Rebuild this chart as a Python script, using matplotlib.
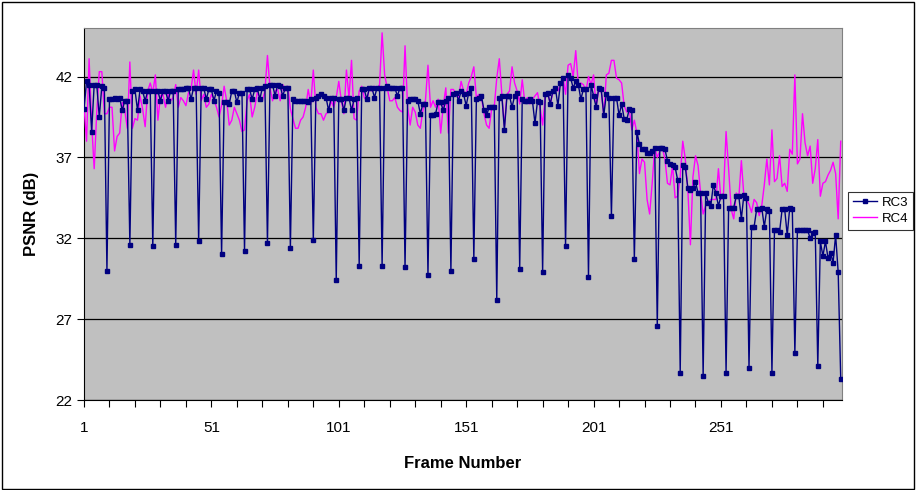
import matplotlib
matplotlib.use("Agg")
import matplotlib.pyplot as plt
from matplotlib.patches import Rectangle
import numpy as np

# PSNR por frame
rc3 = [40.0,
       41.7, 41.5, 38.6, 41.5, 41.5, 39.5, 41.4, 41.3, 30.0,
       40.6, 40.6, 40.7, 40.6, 40.7, 39.9, 40.5, 40.5, 31.6,
       41.1, 41.2, 39.9, 41.2, 41.1, 40.5, 41.1, 41.1, 31.5,
       41.1, 41.1, 40.5, 41.1, 41.1, 40.5, 41.1, 41.1, 31.6,
       41.2, 41.2, 41.2, 41.3, 41.3, 40.6, 41.3, 41.3, 31.8,
       41.3, 41.3, 40.6, 41.2, 41.2, 40.5, 41.1, 41.0, 31.0,
       40.4, 40.4, 40.3, 41.1, 41.1, 40.4, 41.0, 41.0, 31.2,
       41.2, 41.2, 40.6, 41.2, 41.3, 40.6, 41.3, 41.4, 31.7,
       41.5, 41.5, 40.8, 41.5, 41.4, 40.8, 41.3, 41.3, 31.4,
       40.6, 40.5, 40.5, 40.5, 40.5, 40.5, 40.4, 40.6, 31.9,
       40.7, 40.8, 40.9, 40.8, 40.7, 39.9, 40.7, 40.7, 29.4,
       40.6, 40.6, 39.9, 40.7, 40.7, 39.9, 40.6, 40.7, 30.3,
       41.2, 41.2, 40.6, 41.3, 41.3, 40.7, 41.3, 41.3, 30.3,
       41.3, 41.4, 41.3, 41.3, 41.3, 40.8, 41.3, 41.3, 30.2,
       40.5, 40.6, 40.6, 40.6, 40.5, 39.7, 40.3, 40.3, 29.7,
       39.6, 39.6, 39.7, 40.4, 40.4, 39.9, 40.5, 40.7, 30.0,
       40.9, 41.0, 40.5, 41.1, 40.9, 40.2, 41.0, 41.3, 30.7,
       40.6, 40.7, 40.8, 39.9, 39.6, 40.1, 40.1, 40.1, 28.2,
       40.7, 40.8, 38.7, 40.8, 40.8, 40.1, 40.8, 41.0, 30.1,
       40.6, 40.5, 40.5, 40.6, 40.5, 39.1, 40.5, 40.4, 29.9,
       40.9, 41.0, 40.3, 41.1, 41.3, 40.2, 41.6, 41.9, 31.5,
       42.1, 41.9, 41.3, 41.7, 41.5, 40.6, 41.2, 41.2, 29.6,
       41.5, 40.8, 40.1, 41.3, 41.2, 39.6, 40.9, 40.7, 33.4,
       40.7, 40.7, 39.6, 40.3, 39.4, 39.3, 40.0, 39.9, 30.7,
       38.6, 37.8, 37.5, 37.5, 37.3, 37.3, 37.4, 37.6, 26.6,
       37.6, 37.6, 37.5, 36.8, 36.6, 36.5, 36.4, 35.6, 23.7,
       36.5, 36.4, 35.1, 35.0, 35.1, 35.5, 34.8, 34.8, 23.5,
       34.8, 34.2, 34.0, 35.3, 34.8, 34.0, 34.6, 34.6, 23.7,
       33.9, 33.9, 33.9, 34.6, 34.6, 33.2, 34.7, 34.5, 24.0,
       32.7, 32.7, 33.8, 33.8, 33.9, 32.7, 33.8, 33.7, 23.7,
       32.5, 32.5, 32.4, 33.8, 33.8, 32.2, 33.9, 33.8, 24.9,
       32.5, 32.5, 32.5, 32.5, 32.5, 32.0, 32.3, 32.4, 24.1,
       31.8, 30.9, 31.8, 30.8, 31.1, 30.5, 32.2, 29.9, 23.3]

rc4 = [40.2, 38.0, 43.1, 39.1, 36.3, 39.8, 42.3, 42.3, 39.7, 39.7,
       40.1, 40.1, 37.4, 38.3, 38.5, 40.4, 39.9, 38.8, 42.9, 38.8,
       39.4, 39.3, 40.8, 40.0, 38.9, 41.1, 41.6, 41.0, 42.1, 39.3,
       40.8, 40.9, 40.1, 40.9, 40.5, 40.7, 41.5, 40.1, 40.7, 40.5,
       40.2, 41.0, 41.2, 42.4, 40.9, 42.4, 40.5, 40.9, 40.1, 40.3,
       40.9, 40.6, 40.1, 39.5, 40.2, 41.4, 40.5, 39.0, 39.3, 40.1,
       39.7, 39.3, 38.6, 38.7, 40.5, 40.9, 39.5, 40.1, 41.0, 40.7,
       40.5, 41.1, 43.3, 41.3, 40.5, 41.1, 41.2, 40.5, 41.5, 41.1,
       41.4, 40.0, 39.4, 38.8, 38.8, 39.3, 39.5, 40.1, 41.2, 40.3,
       42.4, 40.1, 39.7, 39.7, 39.3, 39.7, 39.8, 40.5, 40.1, 40.7,
       41.7, 40.5, 39.7, 42.4, 40.7, 43.0, 39.4, 39.3, 41.1, 41.4,
       40.7, 40.5, 41.3, 41.1, 41.4, 41.2, 41.5, 44.7, 42.1, 41.3,
       40.5, 40.5, 40.7, 40.1, 39.9, 39.8, 43.9, 40.1, 39.0, 40.1,
       39.8, 39.0, 38.8, 39.9, 40.5, 42.7, 40.1, 40.5, 40.1, 40.6,
       38.5, 40.2, 41.3, 38.5, 41.2, 41.2, 40.9, 40.7, 41.7, 41.1,
       40.9, 41.6, 42.0, 42.6, 40.7, 40.9, 40.7, 39.7, 39.0, 38.8,
       40.0, 40.1, 41.9, 43.1, 40.9, 38.9, 40.9, 41.1, 42.6, 41.6,
       41.1, 40.3, 41.8, 40.4, 40.7, 40.3, 40.6, 40.8, 41.0, 40.1,
       39.0, 40.7, 41.0, 40.3, 41.0, 41.3, 41.1, 41.5, 42.0, 40.9,
       42.7, 42.8, 42.0, 43.6, 41.5, 41.6, 41.5, 41.1, 42.0, 41.5,
       42.1, 40.1, 41.2, 41.1, 39.6, 42.1, 42.2, 43.0, 43.0, 41.9,
       41.8, 41.6, 40.2, 39.8, 40.0, 38.7, 39.3, 38.5, 36.0, 36.9,
       36.7, 34.4, 33.5, 35.4, 37.6, 37.0, 37.4, 37.6, 36.9, 35.4,
       35.3, 36.5, 34.5, 34.6, 35.8, 38.0, 36.9, 35.0, 31.6, 35.8,
       37.1, 36.5, 34.8, 33.5, 34.0, 34.2, 34.4, 34.4, 34.4, 36.3,
       34.4, 34.8, 38.6, 36.3, 33.8, 33.2, 34.8, 34.5, 36.8, 34.6,
       34.4, 34.1, 33.6, 34.4, 34.2, 33.4, 34.0, 35.3, 36.9, 35.3,
       38.7, 35.5, 35.7, 37.1, 35.2, 35.4, 34.9, 37.5, 37.2, 42.1,
       36.6, 36.9, 39.7, 37.9, 37.1, 37.7, 35.4, 36.3, 38.1, 34.6,
       35.4, 35.5, 35.9, 36.2, 36.7, 36.0, 33.2, 38.0]

frames = np.arange(1, len(rc3) + 1)
y_ticks = [22, 27, 32, 37, 42]
x_labels = [1, 51, 101, 151, 201, 251]

plt.rcParams['font.family'] = ['Liberation Sans', 'DejaVu Sans']

fig = plt.figure(figsize=(9.17, 4.90), dpi=100)
ax = fig.add_axes([84 / 917, 90 / 490, 758 / 917, 372 / 490])
ax.set_facecolor('#C0C0C0')

# Lineas de cada serie
ax.plot(frames, rc4, color='#FF00FF', lw=1.0, label='RC4', zorder=3)
ax.plot(frames, rc3, color='#000080', lw=1.0, marker='s', markersize=2.2,
        label='RC3', zorder=4)

ax.set_xlim(1, 298.5)
ax.set_ylim(22, 45)
ax.set_yticks(y_ticks)
ax.yaxis.grid(True, color='black', lw=0.9)
ax.set_axisbelow(True)

xt = np.arange(1, 299, 10)
ax.set_xticks(xt)
ax.set_xticklabels([str(v) if v in x_labels else '' for v in xt])
ax.tick_params(axis='both', direction='out', length=5, width=0.8,
               labelsize=11, colors='black')
ax.tick_params(axis='x', pad=10)

for s in ['top', 'right']:
    ax.spines[s].set_color('#808080')
for s in ['left', 'bottom']:
    ax.spines[s].set_color('black')

ax.set_xlabel('Frame Number', fontsize=12, fontweight='bold', labelpad=15)
ax.set_ylabel('PSNR (dB)', fontsize=12, fontweight='bold', labelpad=12)

handles, labels = ax.get_legend_handles_labels()
leg = fig.legend(handles[::-1], labels[::-1], loc='upper right',
                 bbox_to_anchor=(913 / 917, 1 - 192 / 490), fontsize=9.5,
                 frameon=True, fancybox=False, edgecolor='black',
                 handlelength=1.8, borderpad=0.35, labelspacing=0.3,
                 handletextpad=0.4, borderaxespad=0)
leg.get_frame().set_linewidth(0.8)

# Borde del area del grafico
fig.patches.append(Rectangle((0.002, 0.003), 0.995, 0.993, transform=fig.transFigure,
                             fill=False, edgecolor='black', lw=1.0))

plt.savefig('out.png', dpi=100)
